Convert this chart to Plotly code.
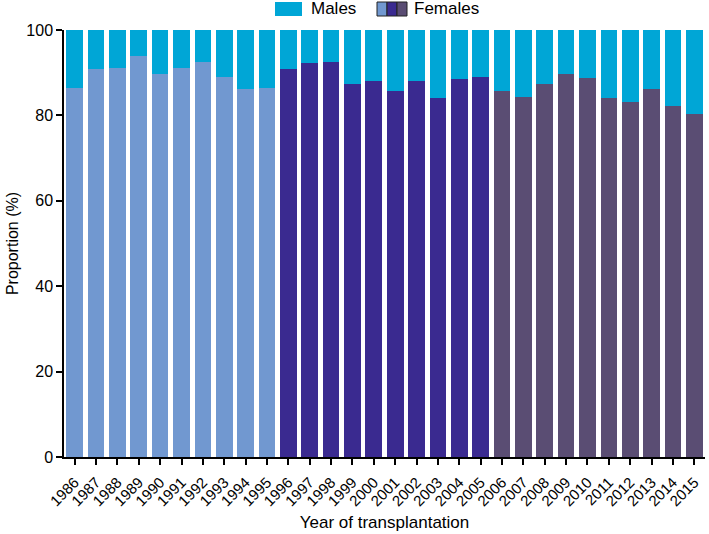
import plotly.graph_objects as go

years = [str(y) for y in range(1986, 2016)]
females = [86.5, 90.8, 91.0, 94.0, 89.8, 91.0, 92.4, 88.9, 86.1, 86.4,
           90.9, 92.3, 92.4, 87.3, 88.0, 85.6, 88.1, 84.0, 88.6, 89.1,
           85.8, 84.4, 87.3, 89.7, 88.8, 84.1, 83.2, 86.2, 82.1, 80.4]
males = [round(100 - f, 1) for f in females]

MALE_COLOR = "#00A6D6"
PERIOD_COLORS = ["#7198D0", "#3A2A90", "#5A4D73"]
female_colors = [PERIOD_COLORS[0]] * 10 + [PERIOD_COLORS[1]] * 10 + [PERIOD_COLORS[2]] * 10

FONT = "Liberation Sans, Arial, Helvetica, sans-serif"

fig = go.Figure()
fig.add_trace(go.Bar(x=years, y=females, name="Females",
                     marker=dict(color=female_colors, line=dict(width=0)),
                     showlegend=False))
fig.add_trace(go.Bar(x=years, y=males, name="Males",
                     marker=dict(color=MALE_COLOR, line=dict(width=0)),
                     showlegend=False))

fig.update_layout(
    width=709, height=534,
    barmode="stack", bargap=0.22,
    plot_bgcolor="white", paper_bgcolor="white",
    margin=dict(l=64, r=4, t=30, b=77, autoexpand=False),
    font=dict(family=FONT, size=16, color="black"),
    xaxis=dict(
        type="category", range=[-0.5, 29.5],
        tickangle=-45, tickfont=dict(size=15),
        ticks="outside", ticklen=6, tickwidth=1.5, tickcolor="black",
        ticklabelstandoff=3,
        showline=True, linecolor="black", linewidth=1.5,
        showgrid=False, zeroline=False,
        title=dict(text="Year of transplantation", font=dict(size=17), standoff=8),
    ),
    yaxis=dict(
        range=[0, 100], tickvals=[0, 20, 40, 60, 80, 100],
        tickfont=dict(size=16),
        ticks="outside", ticklen=6, tickwidth=1.5, tickcolor="black",
        showline=True, linecolor="black", linewidth=1.5,
        showgrid=False, zeroline=False,
        title=dict(text="Proportion (%)", font=dict(size=16), standoff=4),
    ),
)

# Custom legend (paper coordinates relative to the plot area: x 64..705, y 30..457)
def fx(x):
    return (x - 64) / 641

def fy(y):
    return (457 - y) / 427

shapes = [dict(type="rect", xref="paper", yref="paper",
               x0=fx(275), x1=fx(302), y0=fy(2), y1=fy(16),
               fillcolor=MALE_COLOR, line=dict(width=0))]
for i, c in enumerate(PERIOD_COLORS):
    x0 = 377 + i * 10
    shapes.append(dict(type="rect", xref="paper", yref="paper",
                       x0=fx(x0), x1=fx(x0 + 10), y0=fy(2), y1=fy(16),
                       fillcolor=c, line=dict(color="#222222", width=1)))
fig.update_layout(shapes=shapes)

fig.add_annotation(text="Males", xref="paper", yref="paper",
                   x=fx(309), y=fy(9), xanchor="left", yanchor="middle",
                   showarrow=False, font=dict(size=17, family=FONT))
fig.add_annotation(text="Females", xref="paper", yref="paper",
                   x=fx(412), y=fy(9), xanchor="left", yanchor="middle",
                   showarrow=False, font=dict(size=17, family=FONT))

# Remove the browser's default 8px body margin so the figure fills the window exactly.
fig.write_html("out.html",
               config={"displayModeBar": False},
               post_script="document.body.style.margin='0';document.body.style.overflow='hidden';")
